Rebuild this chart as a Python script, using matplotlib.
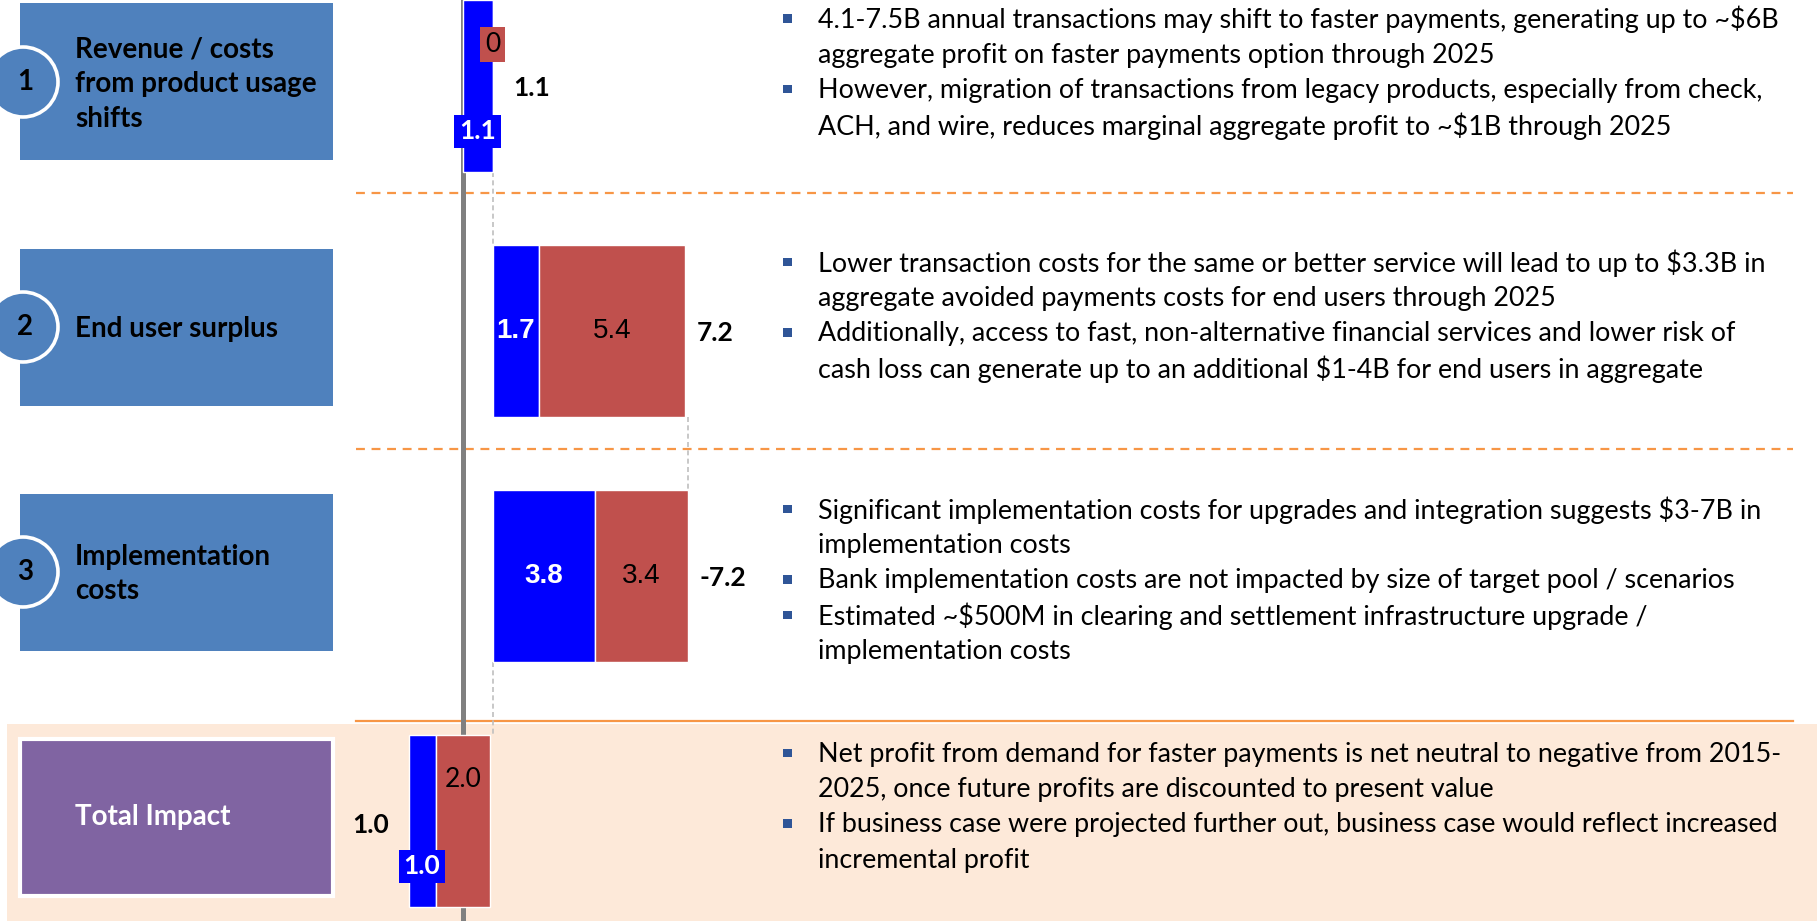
import matplotlib
matplotlib.use("Agg")
import matplotlib.pyplot as plt
from matplotlib.patches import Rectangle, Circle

plt.rcParams['text.parse_math'] = False

# ---------------- data ----------------
row_labels = ["Revenue / costs\nfrom product usage\nshifts", "End user surplus",
              "Implementation\ncosts", "Total Impact"]
row_numbers = ["1", "2", "3", ""]
blue_vals = [1.1, 1.7, 3.8, 1.0]
red_vals = [0.0, 5.4, 3.4, 2.0]
step_vals = [1.1, 7.2, -7.2]
total_val = 1.0
step_text = ["1.1", "7.2", "-7.2"]
total_text = "1.0"
blue_text = ["1.1", "1.7", "3.8", "1.0"]
red_text = ["0", "5.4", "3.4", "2.0"]

bullets = [
    [["4.1-7.5B annual transactions may shift to faster payments, generating up to ~$6B",
      "aggregate profit on faster payments option through 2025"],
     ["However, migration of transactions from legacy products, especially from check,",
      "ACH, and wire, reduces marginal aggregate profit to ~$1B through 2025"]],
    [["Lower transaction costs for the same or better service will lead to up to $3.3B in",
      "aggregate avoided payments costs for end users through 2025"],
     ["Additionally, access to fast, non-alternative financial services and lower risk of",
      "cash loss can generate up to an additional $1-4B for end users in aggregate"]],
    [["Significant implementation costs for upgrades and integration suggests $3-7B in",
      "implementation costs"],
     ["Bank implementation costs are not impacted by size of target pool / scenarios"],
     ["Estimated ~$500M in clearing and settlement infrastructure upgrade /",
      "implementation costs"]],
    [["Net profit from demand for faster payments is net neutral to negative from 2015-",
      "2025, once future profits are discounted to present value"],
     ["If business case were projected further out, business case would reflect increased",
      "incremental profit"]],
]

# ---------------- style / layout ----------------
W, H, DPI = 1817, 921, 100
BLUE = "#0000FF"
RED = "#C0504D"
BOX_BLUE = "#4F81BD"
PURPLE = "#8064A2"
PEACH = "#FDE9D9"
ORANGE = "#F79646"
BULLET = "#2F5597"
CAL = ["Lato", "DejaVu Sans"]
ARI = ["Liberation Sans", "DejaVu Sans"]

X0, PX = 462.7, 27.1          # pixel of zero, pixels per unit
ROW0, ROWSTEP = 86, 245        # pixel centre of first row, row spacing
BAR_H = 0.70

fig = plt.figure(figsize=(W / DPI, H / DPI), dpi=DPI)
bg = fig.add_axes([0, 0, 1, 1])
bg.set_xlim(0, W)
bg.set_ylim(H, 0)
bg.axis("off")
bg.set_zorder(1)

ax = fig.add_axes([0, 0, 1, 1])
ax.patch.set_alpha(0)
ax.axis("off")
ax.set_zorder(2)
ax.set_xlim(-X0 / PX, (W - X0) / PX)
ax.set_ylim((H - ROW0) / ROWSTEP, -ROW0 / ROWSTEP)

# background / separators
bg.add_patch(Rectangle((7, 724), W - 7, H - 724, facecolor=PEACH, edgecolor="none", zorder=0))
for yy in (193.5, 448.5):
    bg.plot([356, 1793], [yy, yy], color=ORANGE, lw=1.6, ls=(0, (4, 3)), zorder=1)
bg.plot([356, 1793], [721, 721], color=ORANGE, lw=1.6, zorder=1)

# left boxes
for i, lab in enumerate(row_labels):
    cy = ROW0 + ROWSTEP * i - 4
    if i < 3:
        bg.add_patch(Rectangle((20, cy - 78.5), 313, 157, facecolor=BOX_BLUE,
                               edgecolor="none", zorder=2))
        bg.add_patch(Circle((23, cy), 35, facecolor=BOX_BLUE, edgecolor="white",
                            lw=2.6, zorder=3))
        bg.text(25.5, cy, row_numbers[i], ha="center", va="center", fontsize=20,
                fontweight="bold", family=CAL, color="black", zorder=4)
        bg.text(75, cy + 2, lab, ha="left", va="center", fontsize=20, fontweight="bold",
                family=CAL, color="black", linespacing=1.42, zorder=4)
    else:
        bg.add_patch(Rectangle((20, cy - 78.5), 313, 157, facecolor=PURPLE,
                               edgecolor="white", lw=3, zorder=2))
        bg.text(75, cy, lab, ha="left", va="center", fontsize=20, fontweight="bold",
                family=CAL, color="white", zorder=4)

# bullets
first_line_y = [19.7, 263, 510, 754]
LINE = 35.4
for i, group in enumerate(bullets):
    y = first_line_y[i]
    for b in group:
        for k, line in enumerate(b):
            if k == 0:
                bg.add_patch(Rectangle((783, y - 5.5), 8.5, 8.5, facecolor=BULLET,
                                       edgecolor="none", zorder=4))
            bg.text(818, y, line, ha="left", va="center", fontsize=19.4,
                    family=CAL, color="black", zorder=4)
            y += LINE

# zero line
ax.axvline(0, color="#808080", lw=3.6, zorder=1)

# bars
lefts = []
ends = []
cum = 0.0
for i in range(3):
    start, end = cum, cum + step_vals[i]
    lefts.append(min(start, end))
    ends.append(end)
    cum = end
lefts.append(total_val - blue_vals[3] - red_vals[3])

for i in range(4):
    left = lefts[i]
    ax.barh(i, blue_vals[i], left=left, height=BAR_H, color=BLUE,
            edgecolor="white", lw=1, zorder=3)
    ax.barh(i, red_vals[i], left=left + blue_vals[i], height=BAR_H, color=RED,
            edgecolor="white", lw=1, zorder=3)

    bx = left + blue_vals[i] / 2
    rx = left + blue_vals[i] + red_vals[i] / 2
    if i in (1, 2):
        ax.text(bx, i, blue_text[i], ha="center", va="center", fontsize=20,
                fontweight="bold", family=ARI, color="white", zorder=5)
        ax.text(rx, i, red_text[i], ha="center", va="center", fontsize=20,
                family=ARI, color="black", zorder=5)
    else:
        ax.text(bx, i + 0.185, blue_text[i], ha="center", va="center", fontsize=19,
                fontweight="bold", family=CAL, color="white", zorder=6,
                bbox=dict(boxstyle="square,pad=0.18", fc=BLUE, ec="none"))
        ax.text(rx, i - 0.17, red_text[i], ha="center", va="center", fontsize=19,
                family=CAL, color="black", zorder=6,
                bbox=dict(boxstyle="square,pad=0.2", fc=RED, ec="none"))

# connectors
conn_x = [ends[0], ends[1], ends[2]]
for i, cx in enumerate(conn_x):
    ax.plot([cx, cx], [i + BAR_H / 2, i + 1 - BAR_H / 2], color="#BFBFBF", lw=1.2,
            ls=(0, (3, 2)), zorder=2)

# value labels
pads = [0.75, 0.42, 0.42]
for i in range(3):
    right = lefts[i] + blue_vals[i] + red_vals[i]
    ax.text(right + pads[i], i + 0.01, step_text[i], ha="left", va="center",
            fontsize=19, fontweight="bold", family=CAL, color="black", zorder=5)
ax.text(lefts[3] - 0.72, 3 + 0.015, total_text, ha="right", va="center", fontsize=19,
        fontweight="bold", family=CAL, color="black", zorder=5)

fig.savefig("out.png", dpi=DPI)
